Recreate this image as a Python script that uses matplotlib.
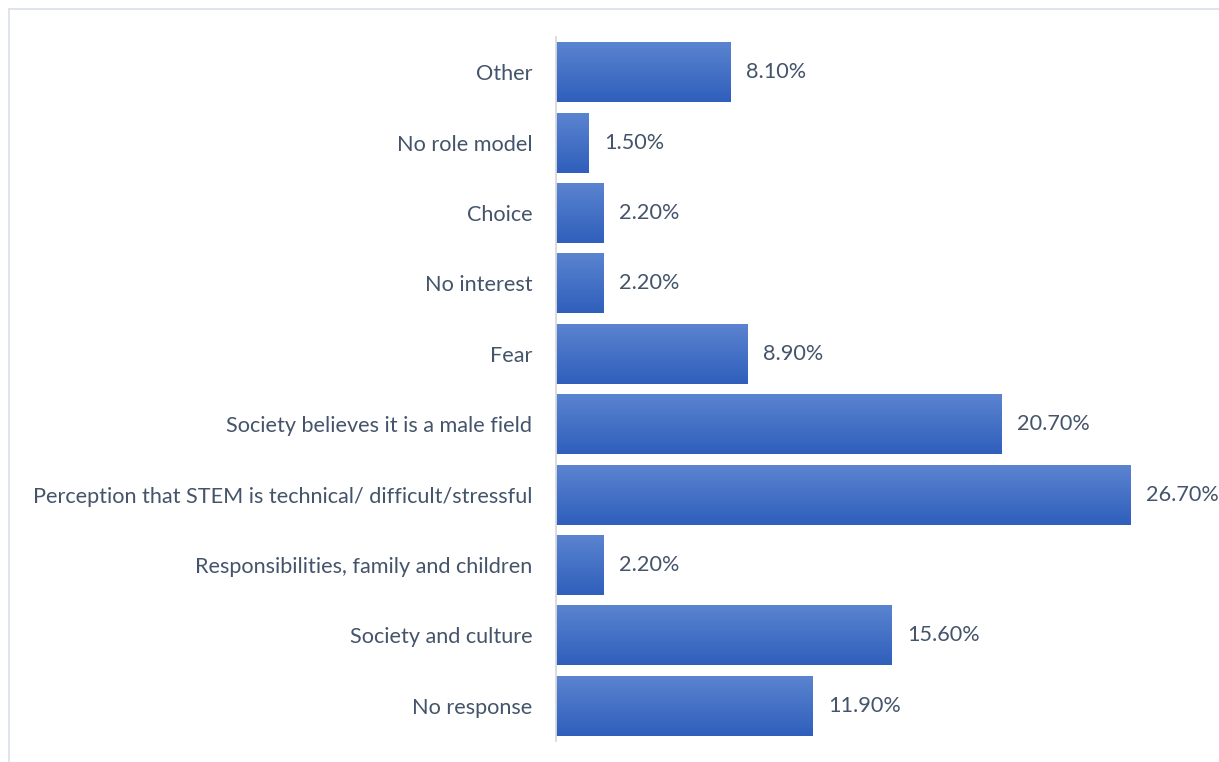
import matplotlib
matplotlib.use("Agg")
import matplotlib.pyplot as plt
import numpy as np
from matplotlib.colors import LinearSegmentedColormap
from matplotlib.lines import Line2D

categories = ["No response", "Society and culture", "Responsibilities, family and children",
              "Perception that STEM is technical/ difficult/stressful",
              "Society believes it is a male field", "Fear", "No interest", "Choice",
              "No role model", "Other"]
values = [11.9, 15.6, 2.2, 26.7, 20.7, 8.9, 2.2, 2.2, 1.5, 8.1]
labels = ["11.90%", "15.60%", "2.20%", "26.70%", "20.70%", "8.90%", "2.20%", "2.20%", "1.50%", "8.10%"]

plt.rcParams['font.family'] = ['Lato', 'DejaVu Sans']
W, H = 1219, 762
fig = plt.figure(figsize=(W/100, H/100), dpi=100)
fig.patch.set_facecolor("white")

left = 556 / W
right = 1202 / W
top = 1 - 37 / H
bottom = 1 - 741 / H
ax = fig.add_axes([left, bottom, right - left, top - bottom])
xmax = 30.0
ax.set_xlim(0, xmax)
ax.set_ylim(-0.5, len(categories) - 0.5)

text_color = "#44546A"
fs = 15.6
bh = 0.85
cmap = LinearSegmentedColormap.from_list("g", ["#2F5FBC", "#5B84D0"])
grad = np.linspace(0, 1, 256).reshape(-1, 1)
bars = ax.barh(range(len(categories)), values, height=bh, color="none", edgecolor="none")
for b, lab in zip(bars, labels):
    x0, y0, w, h = b.get_x(), b.get_y(), b.get_width(), b.get_height()
    ax.imshow(grad, cmap=cmap, aspect="auto", origin="lower",
              extent=(x0, x0 + w, y0, y0 + h), zorder=2, interpolation="bicubic")
    ax.text(x0 + w + 0.72, y0 + h / 2, lab, va="center", ha="left",
            fontsize=fs, color=text_color)

ax.set_yticks(range(len(categories)))
ax.set_yticklabels(categories, fontsize=fs, color=text_color)
ax.tick_params(axis="y", length=0, pad=17)
ax.set_xticks([])
for s in ["top", "right", "bottom"]:
    ax.spines[s].set_visible(False)
ax.spines["left"].set_color("#D9D9D9")
ax.spines["left"].set_linewidth(1.3)
ax.spines["left"].set_zorder(3)
ax.set_facecolor("none")

# chart frame (top and left edges visible)
fx = 8.5 / W
fy = 1 - 8.5 / H
fig.add_artist(Line2D([fx, 1.0], [fy, fy], transform=fig.transFigure, color="#DDE3EA", lw=1.3))
fig.add_artist(Line2D([fx, fx], [0, fy], transform=fig.transFigure, color="#DDE3EA", lw=1.3))

fig.savefig("out.png", dpi=100, facecolor="white")
